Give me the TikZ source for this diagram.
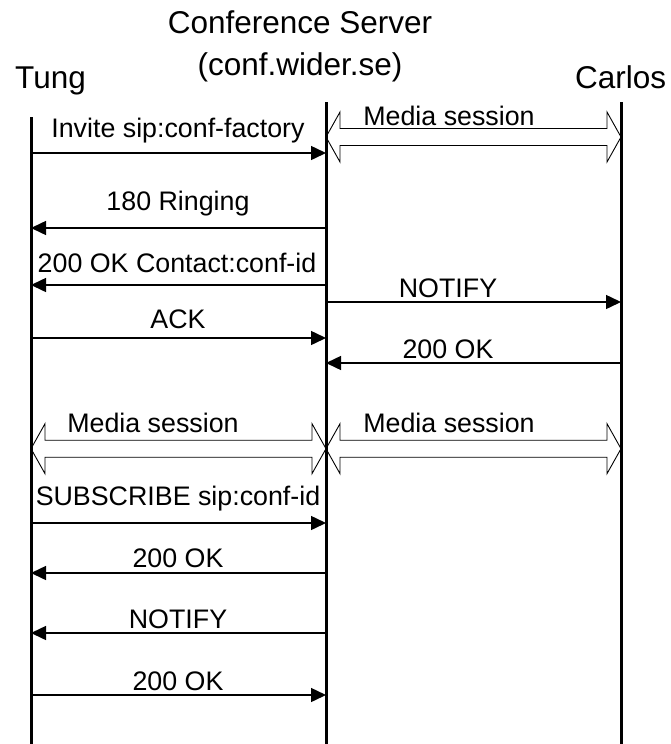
\documentclass[tikz,border=0pt]{standalone}
\usepackage{fontspec}
\setmainfont{Liberation Sans}
\usetikzlibrary{arrows.meta}
\tikzset{
  life/.style={line width=3pt},
  msg/.style={line width=1.5pt,-{Triangle[length=15pt,width=14pt]}},
  lbl/.style={anchor=base,inner sep=0pt,font=\fontsize{26.8pt}{30pt}\selectfont},
  head/.style={anchor=base,inner sep=0pt,font=\fontsize{31.5pt}{36pt}\selectfont},
  media/.style={line width=0.9pt}
}
\begin{document}
\begin{tikzpicture}[x=1pt,y=-1pt]
\useasboundingbox (0,0) rectangle (671,744);
% headers
\node[head] (srv1) at (300,33) {Conference Server};
\node[head] (srv2) at (300,75) {(conf.wider.se)};
\node[head,anchor=base west] (tung) at (15,88) {Tung};
\node[head,anchor=base west] (carlos) at (575,88) {Carlos};
% lifelines
\coordinate (Ttop) at (31,117);  \coordinate (Tbot) at (31,744);
\coordinate (Stop) at (326,102); \coordinate (Sbot) at (326,744);
\coordinate (Ctop) at (621,102); \coordinate (Cbot) at (621,744);
\draw[life] (Ttop) -- (Tbot);
\draw[life] (Stop) -- (Sbot);
\draw[life] (Ctop) -- (Cbot);
% media session double arrows
\newcommand{\mediaarrow}[3]{%
  \draw[media] (#1,#3) -- (#1+14,#3-25) -- (#1+14,#3-8.5) -- (#2-14,#3-8.5) -- (#2-14,#3-25)
   -- (#2,#3) -- (#2-14,#3+25) -- (#2-14,#3+8.5) -- (#1+14,#3+8.5) -- (#1+14,#3+25) -- cycle;}
\mediaarrow{326}{621}{137}
\node[lbl] (m1) at (449,125) {Media session};
\mediaarrow{31}{326}{448.7}
\node[lbl] (m2) at (153,432) {Media session};
\mediaarrow{326}{621}{448.7}
\node[lbl] (m3) at (449,432) {Media session};
% messages
\coordinate (T1) at (31,153); \coordinate (S1) at (326,153);
\draw[msg] (T1) -- (S1);
\node[lbl] (l1) at (178,137) {Invite sip:conf-factory};
\coordinate (T2) at (31,228); \coordinate (S2) at (326,228);
\draw[msg] (S2) -- (T2);
\node[lbl] (l2) at (178,210) {180 Ringing};
\coordinate (T3) at (31,285); \coordinate (S3) at (326,285);
\draw[msg] (S3) -- (T3);
\node[lbl] (l3) at (177,272) {200 OK Contact:conf-id};
\coordinate (S4) at (326,302); \coordinate (C4) at (621,302);
\draw[msg] (S4) -- (C4);
\node[lbl] (l4) at (448,297) {NOTIFY};
\coordinate (T5) at (31,338); \coordinate (S5) at (326,338);
\draw[msg] (T5) -- (S5);
\node[lbl] (l5) at (178,328) {ACK};
\coordinate (S6) at (326,363); \coordinate (C6) at (621,363);
\draw[msg] (C6) -- (S6);
\node[lbl] (l6) at (448,358) {200 OK};
\coordinate (T7) at (31,523); \coordinate (S7) at (326,523);
\draw[msg] (T7) -- (S7);
\node[lbl] (l7) at (178,505) {SUBSCRIBE sip:conf-id};
\coordinate (T8) at (31,573); \coordinate (S8) at (326,573);
\draw[msg] (S8) -- (T8);
\node[lbl] (l8) at (178,567) {200 OK};
\coordinate (T9) at (31,633); \coordinate (S9) at (326,633);
\draw[msg] (S9) -- (T9);
\node[lbl] (l9) at (178,628) {NOTIFY};
\coordinate (T10) at (31,695); \coordinate (S10) at (326,695);
\draw[msg] (T10) -- (S10);
\node[lbl] (l10) at (178,690) {200 OK};
\end{tikzpicture}
\end{document}
